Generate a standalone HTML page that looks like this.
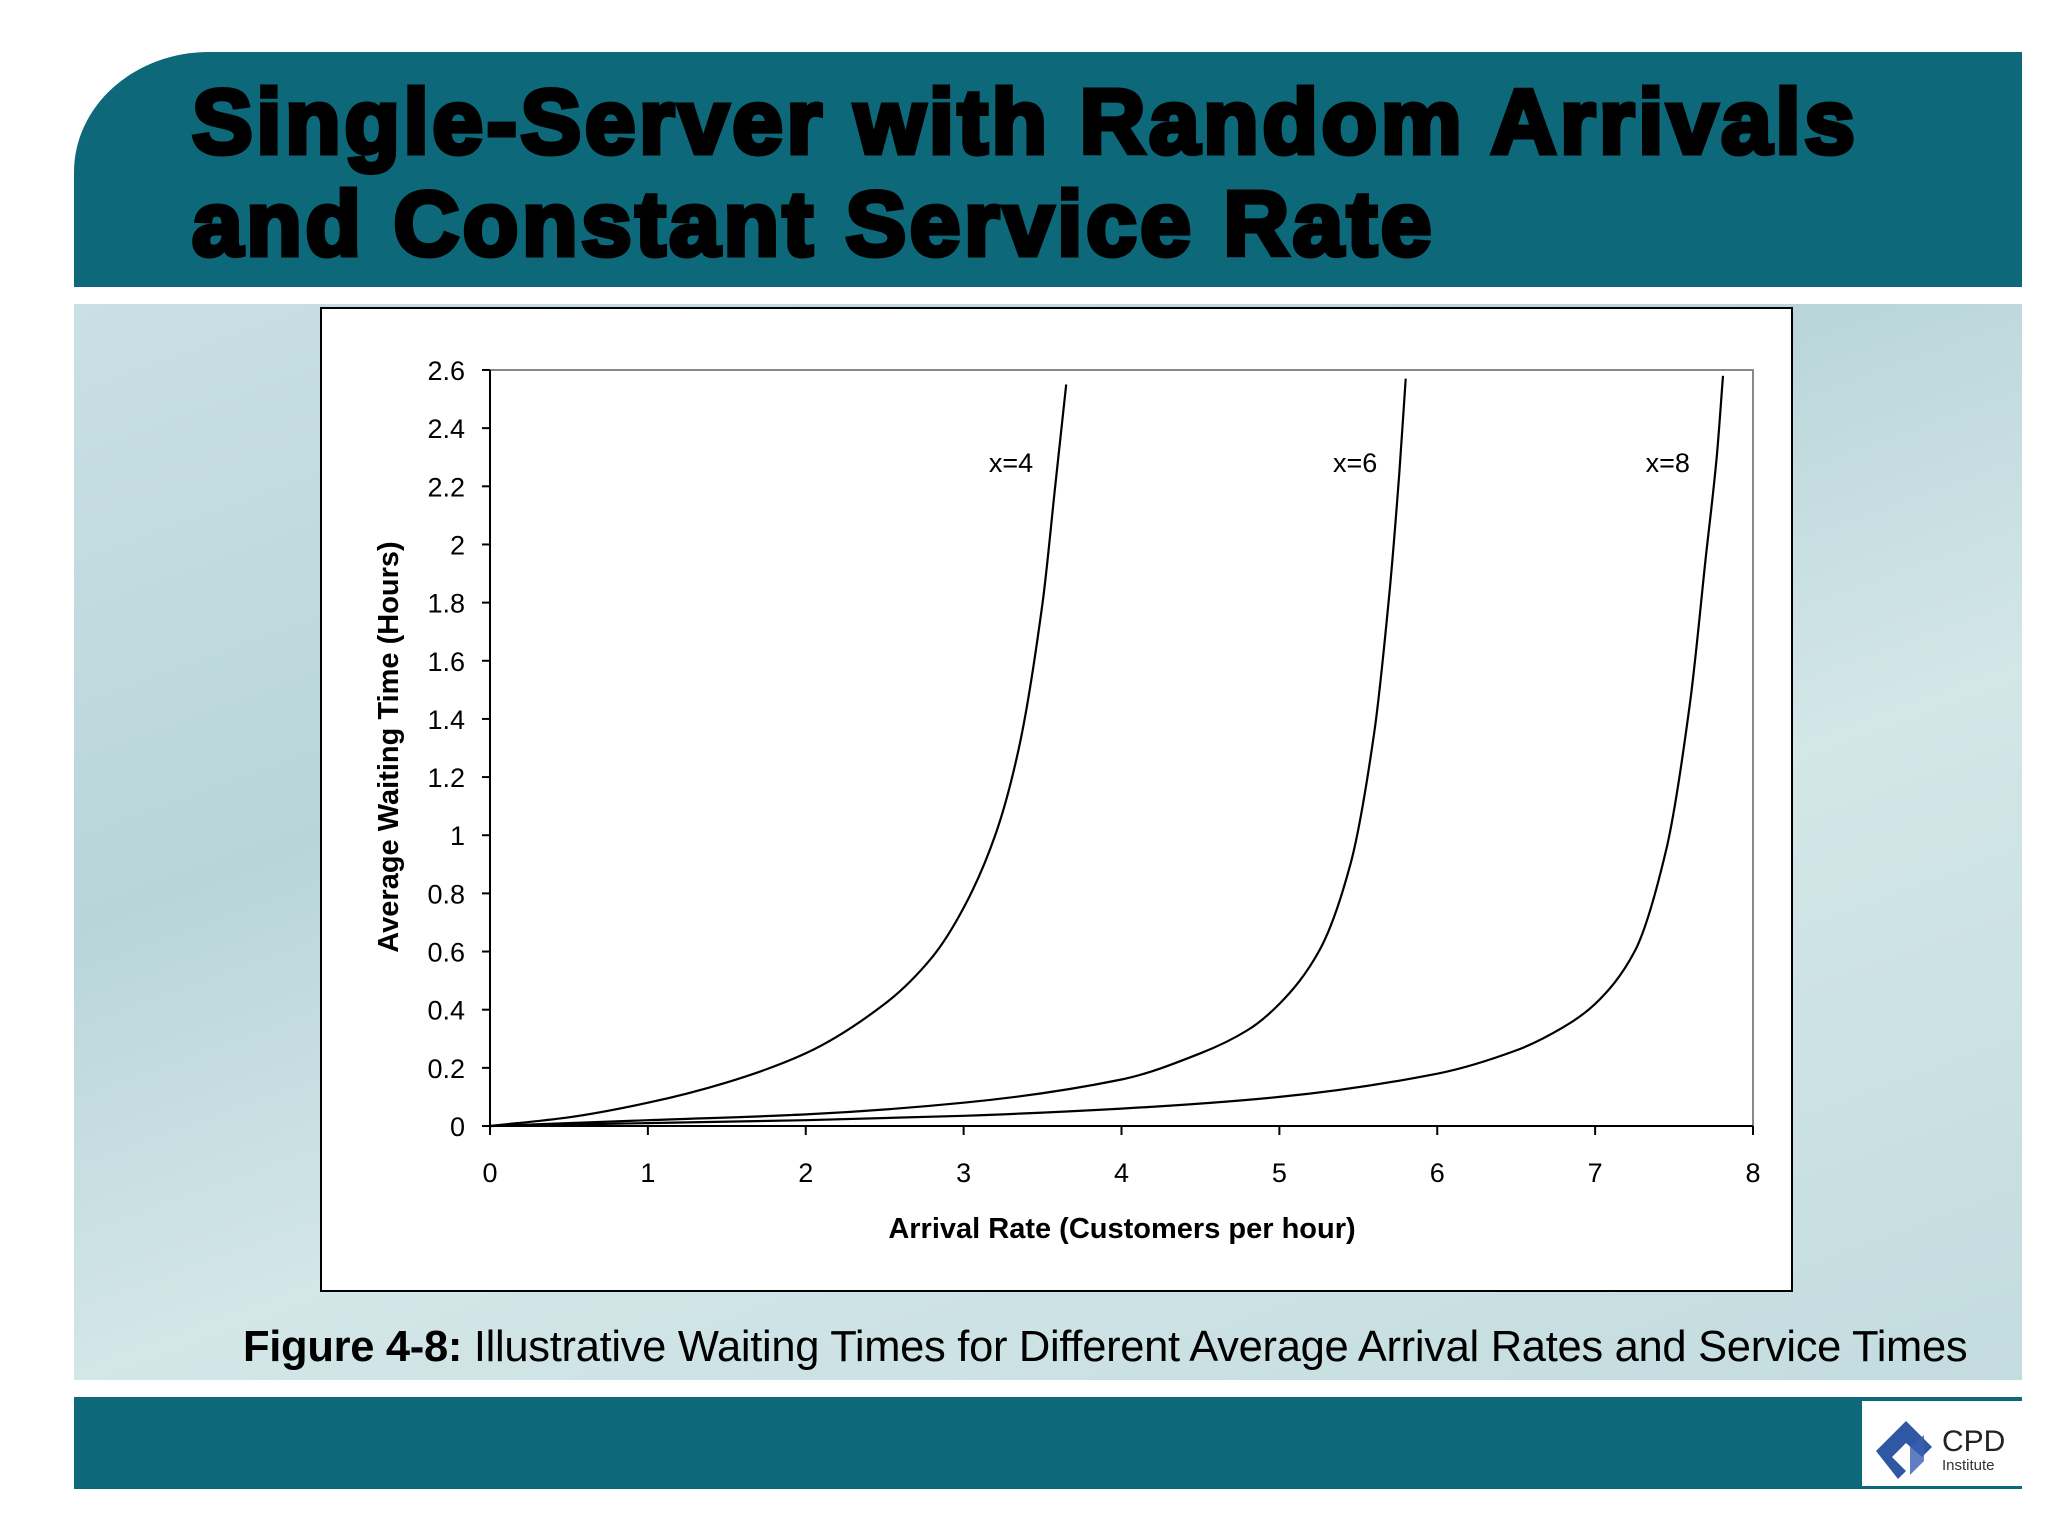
<!DOCTYPE html>
<html><head><meta charset="utf-8"><style>
body{margin:0;width:2048px;height:1536px;background:#fff;position:relative;overflow:hidden;font-family:"Liberation Sans",sans-serif}
.abs{position:absolute}
</style></head><body>
<div class="abs" style="left:74px;top:52px;width:1948px;height:235px;background:#0d687a;border-top-left-radius:135px 120px"></div>
<div class="abs" style="left:192px;top:72px;font-size:91px;line-height:102px;font-weight:bold;color:#000;-webkit-text-stroke:5px #000;letter-spacing:3.6px;white-space:nowrap">Single-Server with Random Arrivals<br>and Constant Service Rate</div>
<div class="abs" style="left:74px;top:304px;width:1948px;height:1076px;background:linear-gradient(160deg,#c9e0e4 0%,#b9d5da 35%,#d3e6e8 60%,#c3dcdf 100%)"></div>
<div class="abs" style="left:74px;top:1397px;width:1948px;height:92px;background:#0d687a"></div>
<div class="abs" style="left:1862px;top:1401px;width:160px;height:85px;background:#fff">
<svg width="160" height="85"><polygon points="44,20 70,46 60,56 44,42 30,56 44,70 36,78 14,50" fill="#2f57a4"/><polygon points="48,46 62,34 62,60 48,74" fill="#3a5fb0" opacity="0.8"/>
<text x="80" y="50" font-size="30" font-family="Liberation Sans" fill="#222">CPD</text><text x="80" y="69" font-size="15" font-family="Liberation Sans" fill="#333">Institute</text></svg></div>
<div class="abs" style="left:320px;top:307px;width:1469px;height:981px;background:#fff;border:2px solid #000"></div>
<svg class="abs" style="left:0;top:0" width="2048" height="1536" id="chart"></svg>
<div class="abs" style="left:243px;top:1323px;font-size:43.5px;color:#000;white-space:nowrap;letter-spacing:-0.3px"><b>Figure 4-8:</b> Illustrative Waiting Times for Different Average Arrival Rates and Service Times</div>
<script>
const xTicks=[0,1,2,3,4,5,6,7,8];
const yTicks=[0,0.2,0.4,0.6,0.8,1,1.2,1.4,1.6,1.8,2,2.2,2.4,2.6];
const yTickLabels=["0","0.2","0.4","0.6","0.8","1","1.2","1.4","1.6","1.8","2","2.2","2.4","2.6"];
const s4x=[0,0.5,1,1.5,2,2.5,2.8,3,3.2,3.35,3.5,3.58,3.65];
const s4y=[0,0.03,0.08,0.15,0.25,0.42,0.58,0.75,1.0,1.3,1.8,2.2,2.55];
const s6x=[0,1,2,3,4,4.5,4.8,5,5.25,5.45,5.6,5.7,5.76,5.8];
const s6y=[0,0.02,0.04,0.08,0.16,0.25,0.33,0.42,0.6,0.9,1.35,1.85,2.25,2.57];
const s8x=[0,1,2,3,4,5,6,6.5,6.8,7,7.25,7.45,7.6,7.7,7.77,7.81];
const s8y=[0,0.01,0.02,0.035,0.06,0.1,0.18,0.26,0.34,0.42,0.6,0.95,1.45,1.95,2.3,2.58];
const seriesLabels=["x=4","x=6","x=8"];
const labelPos=[[3.3,2.25],[5.48,2.25],[7.46,2.25]];
const L=490,R=1753,T=370,B=1126;
const X=v=>L+(v/8)*(R-L);
const Y=v=>B-(v/2.6)*(B-T);
const svg=document.getElementById('chart');
const NS='http://www.w3.org/2000/svg';
function mk(tag,attrs,txt){const e=document.createElementNS(NS,tag);for(const k in attrs)e.setAttribute(k,attrs[k]);if(txt!==undefined)e.textContent=txt;svg.appendChild(e);return e;}
function smoothPath(xs,ys){
 const px=xs.map(X),py=ys.map(Y),n=px.length;
 const d=[],m=[];
 for(let i=0;i<n-1;i++)d.push((py[i+1]-py[i])/(px[i+1]-px[i]));
 m[0]=d[0];m[n-1]=d[n-2];
 for(let i=1;i<n-1;i++){m[i]=(d[i-1]*d[i]<=0)?0:2/(1/d[i-1]+1/d[i]);}
 let s='M'+px[0].toFixed(1)+','+py[0].toFixed(1);
 for(let i=0;i<n-1;i++){const h=(px[i+1]-px[i])/3;
  s+=' C'+(px[i]+h).toFixed(1)+','+(py[i]+m[i]*h).toFixed(1)+' '+(px[i+1]-h).toFixed(1)+','+(py[i+1]-m[i+1]*h).toFixed(1)+' '+px[i+1].toFixed(1)+','+py[i+1].toFixed(1);}
 return s;
}
const F='"Liberation Sans",sans-serif';
let e=mk('rect',{x:L,y:T,width:R-L,height:B-T,fill:'none',stroke:'#888','stroke-width':2});


e=mk('line',{x1:L,y1:T,x2:L,y2:B,stroke:'#000','stroke-width':2});


e=mk('line',{x1:L,y1:B,x2:R,y2:B,stroke:'#000','stroke-width':2});


yTicks.forEach((v,i)=>{
 mk('line',{x1:L-8,y1:Y(v),x2:L,y2:Y(v),stroke:'#000','stroke-width':2});
 const t=mk('text',{x:465,y:Y(v)+10,'text-anchor':'end','font-size':27,'font-family':F,fill:'#000'},yTickLabels[i]);
 
 
});
xTicks.forEach(v=>{
 mk('line',{x1:X(v),y1:B,x2:X(v),y2:B+9,stroke:'#000','stroke-width':2});
 const t=mk('text',{x:X(v),y:1182,'text-anchor':'middle','font-size':27,'font-family':F,fill:'#000'},String(v));
 
 
});
e=mk('text',{x:1122,y:1238,'text-anchor':'middle','font-size':29,'font-weight':'bold','font-family':F,fill:'#000'},'Arrival Rate (Customers per hour)');


e=mk('text',{x:0,y:0,'text-anchor':'middle','font-size':29,'font-weight':'bold','font-family':F,fill:'#000',transform:'translate(398,747) rotate(-90)'},'Average Waiting Time (Hours)');


[[s4x,s4y],[s6x,s6y],[s8x,s8y]].forEach((s,k)=>{
 const p=mk('path',{d:smoothPath(s[0],s[1]),fill:'none',stroke:'#000','stroke-width':2.2});
 
 
 const t=mk('text',{x:X(labelPos[k][0]),y:Y(labelPos[k][1]),'text-anchor':'middle','font-size':27,'font-family':F,fill:'#000'},seriesLabels[k]);
 
 
});
</script>
</body></html>
